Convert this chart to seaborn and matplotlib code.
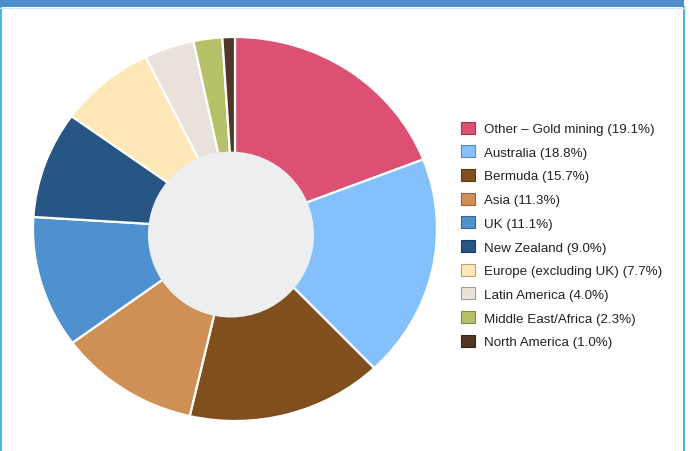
import matplotlib
matplotlib.use("Agg")
import matplotlib.pyplot as plt
import seaborn as sns
from matplotlib.patches import Ellipse, Rectangle
from matplotlib.lines import Line2D
import matplotlib.colors as mcolors

sns.set_theme(style="white")
plt.rcParams['font.family'] = ['Liberation Sans', 'DejaVu Sans']

categories = ["Other \u2013 Gold mining", "Australia", "Bermuda", "Asia", "UK",
              "New Zealand", "Europe (excluding UK)", "Latin America",
              "Middle East/Africa", "North America"]
shares = [19.1, 18.8, 15.7, 11.3, 11.1, 9.0, 7.7, 4.0, 2.3, 1.0]
colors = ["#dc5073", "#84c1fc", "#814e1e", "#cf9056", "#4f91cf",
          "#285684", "#fee8b8", "#eae1db", "#b8c06a", "#4f3628"]
labels = [f"{c} ({v:.1f}%)" for c, v in zip(categories, shares)]

W, H = 690, 452
fig = plt.figure(figsize=(W / 100, H / 100), dpi=100)
fig.patch.set_facecolor("white")

# pie axes: horizontally 33..437 px, vertically 38..422 px
ax = fig.add_axes([33 / W, 1 - 422 / H, (437 - 33) / W, (422 - 38) / H])
wedges, _ = ax.pie(shares, colors=colors, startangle=90, counterclock=False,
                   wedgeprops=dict(edgecolor="white", linewidth=1.6))
ax.set_aspect("auto")
ax.set_xlim(-1, 1)
ax.set_ylim(-1, 1)
ax.axis("off")

# inner hole
ax.add_patch(Ellipse((-0.02, -0.029), 2 * 0.411, 2 * 0.432,
                     facecolor="#edeef0", edgecolor="none", zorder=5))

# legend
handles = []
for c in colors:
    edge = tuple(max(0, x * 0.7) for x in mcolors.to_rgb(c))
    handles.append(Rectangle((0, 0), 1, 1, facecolor=c, edgecolor=edge, linewidth=0.8))
leg = fig.legend(handles, labels, loc="upper left",
                 bbox_to_anchor=(457 / W, 1 - 118.5 / H),
                 frameon=False, fontsize=9.6, handlelength=1.02, handleheight=1.02,
                 handletextpad=0.7, labelspacing=0.755, borderaxespad=0, borderpad=0.3,
                 labelcolor="#222222")

# frame decorations
fig.add_artist(Rectangle((0, 1 - 8 / H), 684 / W, 8 / H, transform=fig.transFigure,
                         facecolor="#4f8fcc", edgecolor="none"))
fig.add_artist(Line2D([0.8 / W, 0.8 / W], [0, 1 - 8 / H], transform=fig.transFigure,
                      color="#2aa8e0", linewidth=1.2))
fig.add_artist(Line2D([683.5 / W, 683.5 / W], [0, 1 - 8 / H], transform=fig.transFigure,
                      color="#2aa8e0", linewidth=1.2))
fig.add_artist(Line2D([0, 684 / W], [1 - 8.6 / H, 1 - 8.6 / H], transform=fig.transFigure,
                      color="#c9ecfb", linewidth=0.8))

fig.savefig("out.png", dpi=100)
